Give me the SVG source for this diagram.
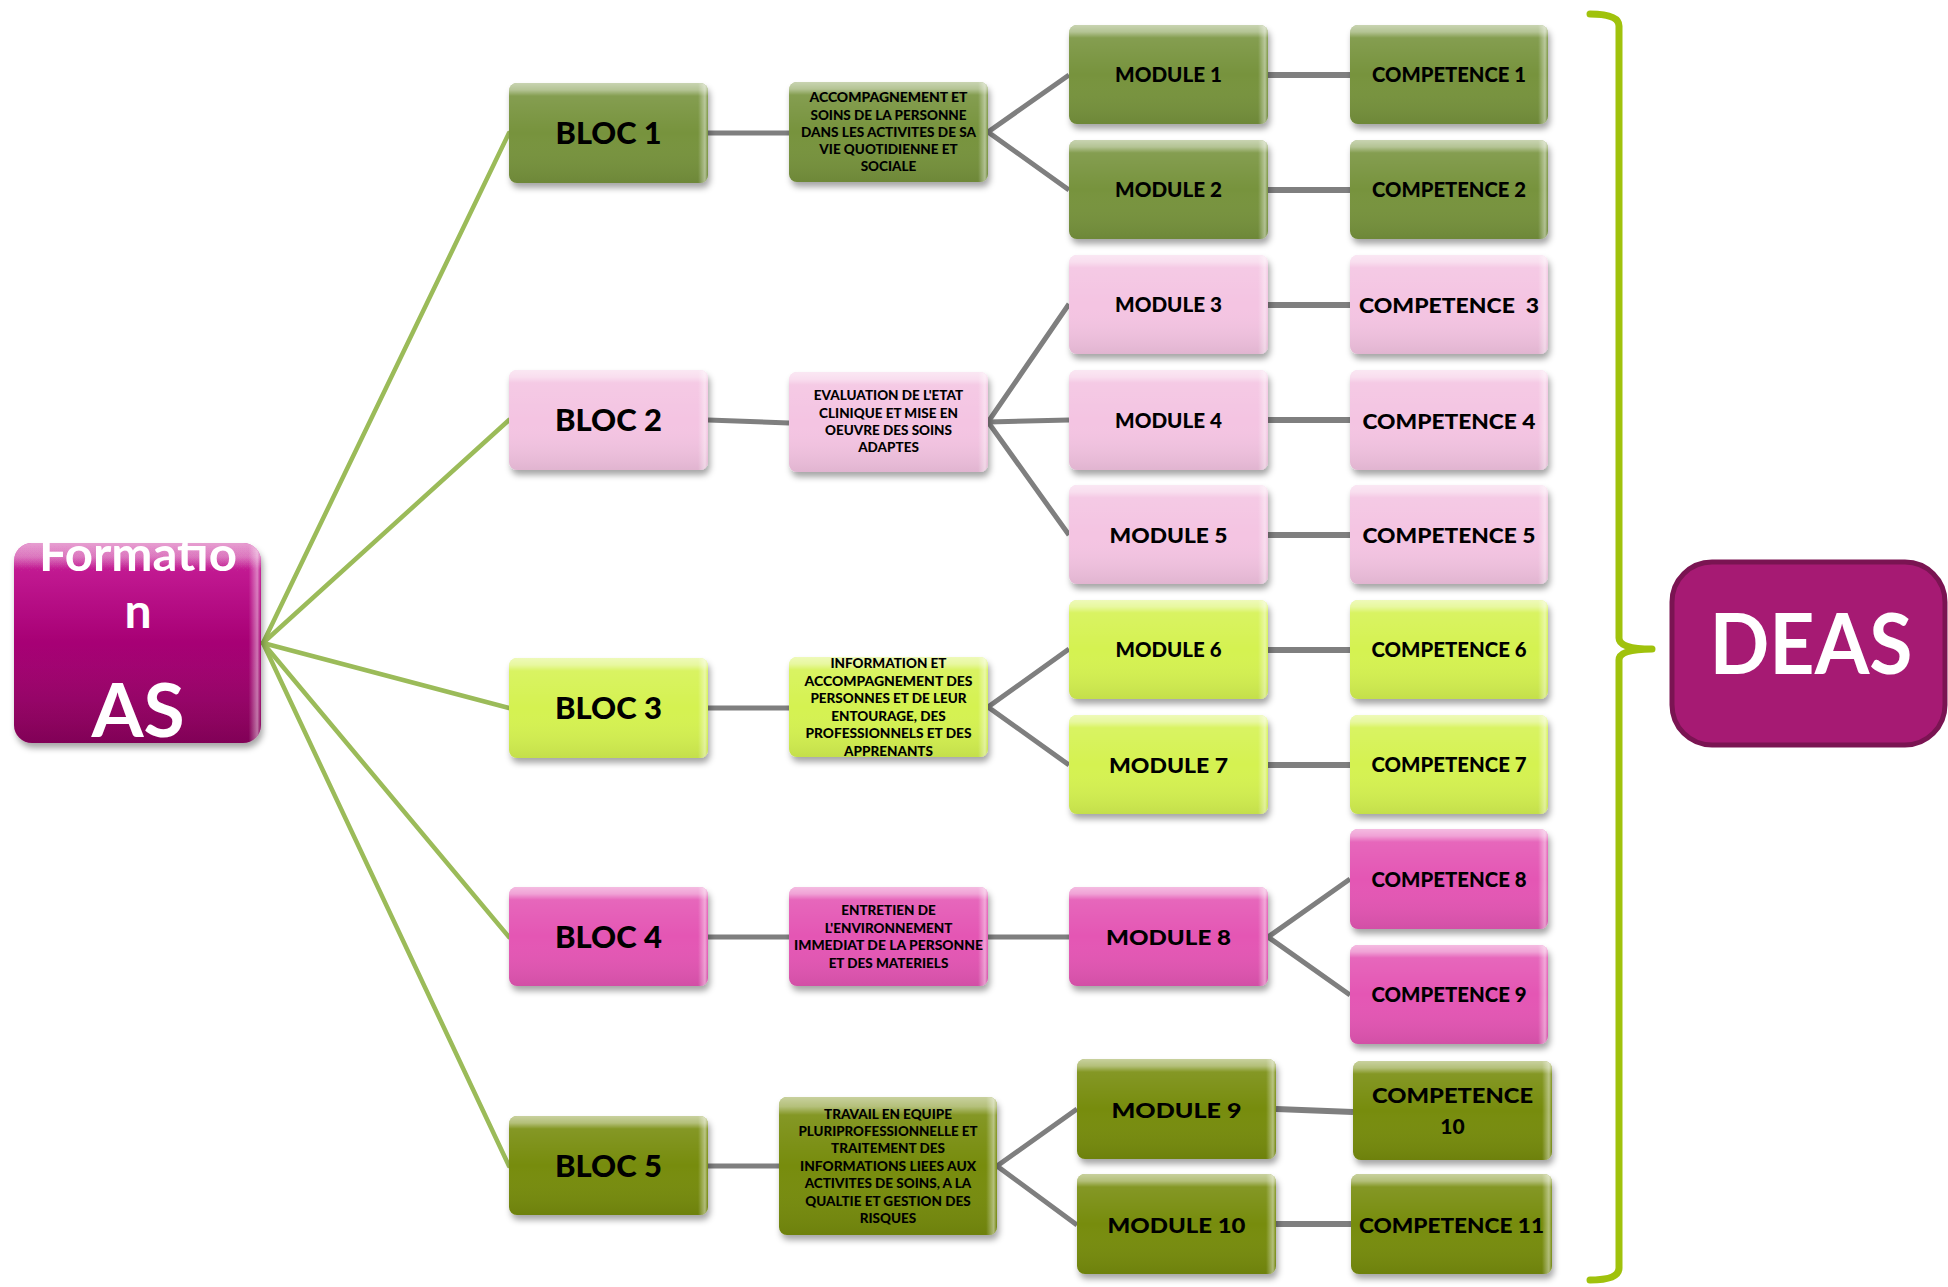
<svg xmlns="http://www.w3.org/2000/svg" width="1948" height="1287" viewBox="0 0 1948 1287">
<defs>
  <filter id="sh" x="-10%" y="-10%" width="125%" height="135%">
    <feDropShadow dx="2" dy="5" stdDeviation="3" flood-color="#000" flood-opacity="0.35"/>
  </filter>
  <linearGradient id="gl" x1="0" y1="0" x2="0" y2="1">
    <stop offset="0" stop-color="#fff" stop-opacity="0.6"/>
    <stop offset="0.07" stop-color="#fff" stop-opacity="0.45"/>
    <stop offset="0.13" stop-color="#fff" stop-opacity="0.1"/>
    <stop offset="0.5" stop-color="#fff" stop-opacity="0"/>
    <stop offset="1" stop-color="#000" stop-opacity="0.08"/>
  </linearGradient>
  <linearGradient id="gr" x1="0" y1="0" x2="1" y2="0">
    <stop offset="0" stop-color="#fff" stop-opacity="0"/>
    <stop offset="0.95" stop-color="#fff" stop-opacity="0"/>
    <stop offset="0.985" stop-color="#fff" stop-opacity="0.45"/>
    <stop offset="1" stop-color="#fff" stop-opacity="0"/>
  </linearGradient>
  <linearGradient id="fmag" x1="0" y1="0" x2="0" y2="1">
    <stop offset="0" stop-color="#c2078c"/>
    <stop offset="1" stop-color="#8c005d"/>
  </linearGradient>
</defs>
<style>
  .box{filter:url(#sh)}
  .gl{fill:url(#gl)}
  .gr{fill:url(#gr)}
  .g1 .box{fill:#77933c}
  .pk .box{fill:#f4c4e2}
  .lm .box{fill:#d5f251}
  .mg .box{fill:#e456b4}
  .ol .box{fill:#778c0a}
  text{font-family:Lato,"Open Sans","Liberation Sans",sans-serif;font-weight:900;fill:#000;text-anchor:middle}
  .bl{font-size:31px}
  .md{font-size:21px}
  .ds{font-size:13.5px}
  .wt{fill:#fff;font-weight:700}
  .gc{stroke:#9bbb59;stroke-width:4.5;fill:none;stroke-linecap:round}
  .gy{stroke:#7f7f7f;stroke-width:5;fill:none}
  .gh{stroke:#7f7f7f;stroke-width:6;fill:none}
</style>

<g id="connectors">
  <line class="gc" x1="263" y1="643" x2="509" y2="133"/>
  <line class="gc" x1="263" y1="643" x2="509" y2="420"/>
  <line class="gc" x1="263" y1="643" x2="509" y2="708"/>
  <line class="gc" x1="263" y1="643" x2="509" y2="937"/>
  <line class="gc" x1="263" y1="643" x2="509" y2="1166"/>
  <line class="gy" x1="708" y1="133" x2="789" y2="133"/>
  <line class="gy" x1="708" y1="420" x2="789" y2="423"/>
  <line class="gy" x1="708" y1="708" x2="789" y2="708"/>
  <line class="gy" x1="708" y1="937" x2="789" y2="937"/>
  <line class="gy" x1="708" y1="1166" x2="779" y2="1166"/>
  <line class="gy" x1="988" y1="937" x2="1069" y2="937"/>
  <polyline class="gy" points="1069,75 988,132 1069,190"/>
  <polyline class="gy" points="1069,304 988,422 1069,535"/>
  <line class="gy" x1="988" y1="422" x2="1069" y2="420"/>
  <polyline class="gy" points="1069,649 988,707 1069,765"/>
  <polyline class="gy" points="1350,879 1268,937 1350,995"/>
  <polyline class="gy" points="1077,1109 997,1166 1077,1225"/>
  <line class="gh" x1="1268" y1="75" x2="1350" y2="75"/>
  <line class="gh" x1="1268" y1="190" x2="1350" y2="190"/>
  <line class="gh" x1="1268" y1="305" x2="1350" y2="305"/>
  <line class="gh" x1="1268" y1="420" x2="1350" y2="420"/>
  <line class="gh" x1="1268" y1="535" x2="1350" y2="535"/>
  <line class="gh" x1="1268" y1="650" x2="1350" y2="650"/>
  <line class="gh" x1="1268" y1="765" x2="1350" y2="765"/>
  <line class="gh" x1="1276" y1="1109" x2="1353" y2="1112"/>
  <line class="gh" x1="1276" y1="1224" x2="1351" y2="1224"/>
  <path d="M1590,14 Q1619,14 1619,26 L1619,638 Q1619,649 1652,649 Q1619,649 1619,660 L1619,1268 Q1619,1280 1590,1280" fill="none" stroke="#a0c20c" stroke-width="7" stroke-linecap="round" stroke-linejoin="round"/>
</g>

<g id="formation">
  <rect x="14" y="543" width="247" height="200" rx="18" fill="url(#fmag)" filter="url(#sh)"/>
  <rect class="gl" x="14" y="543" width="247" height="200" rx="18"/>
  <rect class="gr" x="14" y="543" width="247" height="200" rx="18"/>
  <text class="wt" x="138" y="571" font-size="48" textLength="198" lengthAdjust="spacingAndGlyphs">Formatio</text>
  <text class="wt" x="138" y="628" font-size="48">n</text>
  <text class="wt" x="138" y="737" font-size="75">AS</text>
</g>

<g id="bloc1" class="g1"><rect class="box" x="509" y="83" width="199" height="100" rx="8"/><rect class="gl" x="509" y="83" width="199" height="100" rx="8"/><rect class="gr" x="509" y="83" width="199" height="100" rx="8"/><text class="bl" x="608.5" y="144" textLength="106" lengthAdjust="spacingAndGlyphs">BLOC 1</text></g>
<g id="bloc2" class="pk"><rect class="box" x="509" y="370" width="199" height="100" rx="8"/><rect class="gl" x="509" y="370" width="199" height="100" rx="8"/><rect class="gr" x="509" y="370" width="199" height="100" rx="8"/><text class="bl" x="608.5" y="431" textLength="107" lengthAdjust="spacingAndGlyphs">BLOC 2</text></g>
<g id="bloc3" class="lm"><rect class="box" x="509" y="658" width="199" height="100" rx="8"/><rect class="gl" x="509" y="658" width="199" height="100" rx="8"/><rect class="gr" x="509" y="658" width="199" height="100" rx="8"/><text class="bl" x="608.5" y="719" textLength="107" lengthAdjust="spacingAndGlyphs">BLOC 3</text></g>
<g id="bloc4" class="mg"><rect class="box" x="509" y="887" width="199" height="99" rx="8"/><rect class="gl" x="509" y="887" width="199" height="99" rx="8"/><rect class="gr" x="509" y="887" width="199" height="99" rx="8"/><text class="bl" x="608.5" y="948" textLength="107" lengthAdjust="spacingAndGlyphs">BLOC 4</text></g>
<g id="bloc5" class="ol"><rect class="box" x="509" y="1116" width="199" height="99" rx="8"/><rect class="gl" x="509" y="1116" width="199" height="99" rx="8"/><rect class="gr" x="509" y="1116" width="199" height="99" rx="8"/><text class="bl" x="608.5" y="1177" textLength="107" lengthAdjust="spacingAndGlyphs">BLOC 5</text></g>

<g id="desc1" class="g1"><rect class="box" x="789" y="82" width="199" height="100" rx="8"/><rect class="gl" x="789" y="82" width="199" height="100" rx="8"/><rect class="gr" x="789" y="82" width="199" height="100" rx="8"/>
  <text class="ds" x="888.5" y="102" textLength="158" lengthAdjust="spacingAndGlyphs">ACCOMPAGNEMENT ET</text>
  <text class="ds" x="888.5" y="119.5">SOINS DE LA PERSONNE</text>
  <text class="ds" x="888.5" y="137" textLength="175" lengthAdjust="spacingAndGlyphs">DANS LES ACTIVITES DE SA</text>
  <text class="ds" x="888.5" y="154">VIE QUOTIDIENNE ET</text>
  <text class="ds" x="888.5" y="171">SOCIALE</text></g>
<g id="desc2" class="pk"><rect class="box" x="789" y="372" width="199" height="100" rx="8"/><rect class="gl" x="789" y="372" width="199" height="100" rx="8"/><rect class="gr" x="789" y="372" width="199" height="100" rx="8"/>
  <text class="ds" x="888.5" y="400">EVALUATION DE L'ETAT</text>
  <text class="ds" x="888.5" y="417.5">CLINIQUE ET MISE EN</text>
  <text class="ds" x="888.5" y="435">OEUVRE DES SOINS</text>
  <text class="ds" x="888.5" y="452">ADAPTES</text></g>
<g id="desc3" class="lm"><rect class="box" x="789" y="657" width="199" height="100" rx="8"/><rect class="gl" x="789" y="657" width="199" height="100" rx="8"/><rect class="gr" x="789" y="657" width="199" height="100" rx="8"/>
  <text class="ds" x="888.5" y="668">INFORMATION ET</text>
  <text class="ds" x="888.5" y="685.5" textLength="168" lengthAdjust="spacingAndGlyphs">ACCOMPAGNEMENT DES</text>
  <text class="ds" x="888.5" y="703">PERSONNES ET DE LEUR</text>
  <text class="ds" x="888.5" y="720.5">ENTOURAGE, DES</text>
  <text class="ds" x="888.5" y="738" textLength="166" lengthAdjust="spacingAndGlyphs">PROFESSIONNELS ET DES</text>
  <text class="ds" x="888.5" y="755.5">APPRENANTS</text></g>
<g id="desc4" class="mg"><rect class="box" x="789" y="887" width="199" height="99" rx="8"/><rect class="gl" x="789" y="887" width="199" height="99" rx="8"/><rect class="gr" x="789" y="887" width="199" height="99" rx="8"/>
  <text class="ds" x="888.5" y="915">ENTRETIEN DE</text>
  <text class="ds" x="888.5" y="933">L'ENVIRONNEMENT</text>
  <text class="ds" x="888.5" y="950" textLength="189" lengthAdjust="spacingAndGlyphs">IMMEDIAT DE LA PERSONNE</text>
  <text class="ds" x="888.5" y="968">ET DES MATERIELS</text></g>
<g id="desc5" class="ol"><rect class="box" x="779" y="1097" width="218" height="138" rx="8"/><rect class="gl" x="779" y="1097" width="218" height="138" rx="8"/><rect class="gr" x="779" y="1097" width="218" height="138" rx="8"/>
  <text class="ds" x="888" y="1119">TRAVAIL EN EQUIPE</text>
  <text class="ds" x="888" y="1136" textLength="179" lengthAdjust="spacingAndGlyphs">PLURIPROFESSIONNELLE ET</text>
  <text class="ds" x="888" y="1153">TRAITEMENT DES</text>
  <text class="ds" x="888" y="1170.5" textLength="176" lengthAdjust="spacingAndGlyphs">INFORMATIONS LIEES AUX</text>
  <text class="ds" x="888" y="1188">ACTIVITES DE SOINS, A LA</text>
  <text class="ds" x="888" y="1205.5">QUALTIE ET GESTION DES</text>
  <text class="ds" x="888" y="1223">RISQUES</text></g>

<g id="module1" class="g1"><rect class="box" x="1069" y="25" width="199" height="99" rx="8"/><rect class="gl" x="1069" y="25" width="199" height="99" rx="8"/><rect class="gr" x="1069" y="25" width="199" height="99" rx="8"/><text class="md" x="1168.5" y="82" textLength="107" lengthAdjust="spacingAndGlyphs">MODULE 1</text></g>
<g id="module2" class="g1"><rect class="box" x="1069" y="140" width="199" height="99" rx="8"/><rect class="gl" x="1069" y="140" width="199" height="99" rx="8"/><rect class="gr" x="1069" y="140" width="199" height="99" rx="8"/><text class="md" x="1168.5" y="197" textLength="107" lengthAdjust="spacingAndGlyphs">MODULE 2</text></g>
<g id="module3" class="pk"><rect class="box" x="1069" y="255" width="199" height="99" rx="8"/><rect class="gl" x="1069" y="255" width="199" height="99" rx="8"/><rect class="gr" x="1069" y="255" width="199" height="99" rx="8"/><text class="md" x="1168.5" y="312" textLength="107" lengthAdjust="spacingAndGlyphs">MODULE 3</text></g>
<g id="module4" class="pk"><rect class="box" x="1069" y="370" width="199" height="100" rx="8"/><rect class="gl" x="1069" y="370" width="199" height="100" rx="8"/><rect class="gr" x="1069" y="370" width="199" height="100" rx="8"/><text class="md" x="1168.5" y="427.5" textLength="107" lengthAdjust="spacingAndGlyphs">MODULE 4</text></g>
<g id="module5" class="pk"><rect class="box" x="1069" y="485" width="199" height="99" rx="8"/><rect class="gl" x="1069" y="485" width="199" height="99" rx="8"/><rect class="gr" x="1069" y="485" width="199" height="99" rx="8"/><text class="md" x="1168.5" y="543" font-size="23" textLength="118" lengthAdjust="spacingAndGlyphs">MODULE 5</text></g>
<g id="module6" class="lm"><rect class="box" x="1069" y="600" width="199" height="99" rx="8"/><rect class="gl" x="1069" y="600" width="199" height="99" rx="8"/><rect class="gr" x="1069" y="600" width="199" height="99" rx="8"/><text class="md" x="1168.5" y="657" textLength="106" lengthAdjust="spacingAndGlyphs">MODULE 6</text></g>
<g id="module7" class="lm"><rect class="box" x="1069" y="715" width="199" height="99" rx="8"/><rect class="gl" x="1069" y="715" width="199" height="99" rx="8"/><rect class="gr" x="1069" y="715" width="199" height="99" rx="8"/><text class="md" x="1168.5" y="772.5" font-size="23" textLength="119" lengthAdjust="spacingAndGlyphs">MODULE 7</text></g>
<g id="module8" class="mg"><rect class="box" x="1069" y="887" width="199" height="99" rx="8"/><rect class="gl" x="1069" y="887" width="199" height="99" rx="8"/><rect class="gr" x="1069" y="887" width="199" height="99" rx="8"/><text class="md" x="1168.5" y="945" font-size="24" textLength="125" lengthAdjust="spacingAndGlyphs">MODULE 8</text></g>
<g id="module9" class="ol"><rect class="box" x="1077" y="1059" width="199" height="100" rx="8"/><rect class="gl" x="1077" y="1059" width="199" height="100" rx="8"/><rect class="gr" x="1077" y="1059" width="199" height="100" rx="8"/><text class="md" x="1176.5" y="1118" font-size="25" textLength="130" lengthAdjust="spacingAndGlyphs">MODULE 9</text></g>
<g id="module10" class="ol"><rect class="box" x="1077" y="1174" width="199" height="100" rx="8"/><rect class="gl" x="1077" y="1174" width="199" height="100" rx="8"/><rect class="gr" x="1077" y="1174" width="199" height="100" rx="8"/><text class="md" x="1176.5" y="1233" font-size="25" textLength="138" lengthAdjust="spacingAndGlyphs">MODULE 10</text></g>

<g id="competence1" class="g1"><rect class="box" x="1350" y="25" width="198" height="99" rx="8"/><rect class="gl" x="1350" y="25" width="198" height="99" rx="8"/><rect class="gr" x="1350" y="25" width="198" height="99" rx="8"/><text class="md" x="1449" y="82" textLength="154" lengthAdjust="spacingAndGlyphs">COMPETENCE 1</text></g>
<g id="competence2" class="g1"><rect class="box" x="1350" y="140" width="198" height="99" rx="8"/><rect class="gl" x="1350" y="140" width="198" height="99" rx="8"/><rect class="gr" x="1350" y="140" width="198" height="99" rx="8"/><text class="md" x="1449" y="197" textLength="154" lengthAdjust="spacingAndGlyphs">COMPETENCE 2</text></g>
<g id="competence3" class="pk"><rect class="box" x="1350" y="255" width="198" height="99" rx="8"/><rect class="gl" x="1350" y="255" width="198" height="99" rx="8"/><rect class="gr" x="1350" y="255" width="198" height="99" rx="8"/><text class="md" x="1449" y="313" font-size="23" textLength="180" lengthAdjust="spacingAndGlyphs" xml:space="preserve">COMPETENCE  3</text></g>
<g id="competence4" class="pk"><rect class="box" x="1350" y="370" width="198" height="100" rx="8"/><rect class="gl" x="1350" y="370" width="198" height="100" rx="8"/><rect class="gr" x="1350" y="370" width="198" height="100" rx="8"/><text class="md" x="1449" y="428.5" font-size="23" textLength="173" lengthAdjust="spacingAndGlyphs">COMPETENCE 4</text></g>
<g id="competence5" class="pk"><rect class="box" x="1350" y="485" width="198" height="99" rx="8"/><rect class="gl" x="1350" y="485" width="198" height="99" rx="8"/><rect class="gr" x="1350" y="485" width="198" height="99" rx="8"/><text class="md" x="1449" y="543" font-size="23" textLength="173" lengthAdjust="spacingAndGlyphs">COMPETENCE 5</text></g>
<g id="competence6" class="lm"><rect class="box" x="1350" y="600" width="198" height="99" rx="8"/><rect class="gl" x="1350" y="600" width="198" height="99" rx="8"/><rect class="gr" x="1350" y="600" width="198" height="99" rx="8"/><text class="md" x="1449" y="657" textLength="155" lengthAdjust="spacingAndGlyphs">COMPETENCE 6</text></g>
<g id="competence7" class="lm"><rect class="box" x="1350" y="715" width="198" height="99" rx="8"/><rect class="gl" x="1350" y="715" width="198" height="99" rx="8"/><rect class="gr" x="1350" y="715" width="198" height="99" rx="8"/><text class="md" x="1449" y="772" textLength="155" lengthAdjust="spacingAndGlyphs">COMPETENCE 7</text></g>
<g id="competence8" class="mg"><rect class="box" x="1350" y="829" width="198" height="100" rx="8"/><rect class="gl" x="1350" y="829" width="198" height="100" rx="8"/><rect class="gr" x="1350" y="829" width="198" height="100" rx="8"/><text class="md" x="1449" y="886.5" textLength="155" lengthAdjust="spacingAndGlyphs">COMPETENCE 8</text></g>
<g id="competence9" class="mg"><rect class="box" x="1350" y="945" width="198" height="99" rx="8"/><rect class="gl" x="1350" y="945" width="198" height="99" rx="8"/><rect class="gr" x="1350" y="945" width="198" height="99" rx="8"/><text class="md" x="1449" y="1002" textLength="155" lengthAdjust="spacingAndGlyphs">COMPETENCE 9</text></g>
<g id="competence10" class="ol"><rect class="box" x="1353" y="1061" width="199" height="99" rx="8"/><rect class="gl" x="1353" y="1061" width="199" height="99" rx="8"/><rect class="gr" x="1353" y="1061" width="199" height="99" rx="8"/><text class="md" x="1452.5" y="1103" font-size="23" textLength="161" lengthAdjust="spacingAndGlyphs">COMPETENCE</text><text class="md" x="1452.5" y="1134" font-size="23">10</text></g>
<g id="competence11" class="ol"><rect class="box" x="1351" y="1174" width="201" height="100" rx="8"/><rect class="gl" x="1351" y="1174" width="201" height="100" rx="8"/><rect class="gr" x="1351" y="1174" width="201" height="100" rx="8"/><text class="md" x="1451.5" y="1233" font-size="24" textLength="185" lengthAdjust="spacingAndGlyphs">COMPETENCE 11</text></g>

<g id="deas">
  <rect x="1672" y="562" width="273" height="183" rx="40" fill="#a61a73" stroke="#7a1452" stroke-width="5"/>
  <text class="wt" x="1811" y="674" font-size="84" textLength="203" lengthAdjust="spacingAndGlyphs">DEAS</text>
</g>
</svg>
